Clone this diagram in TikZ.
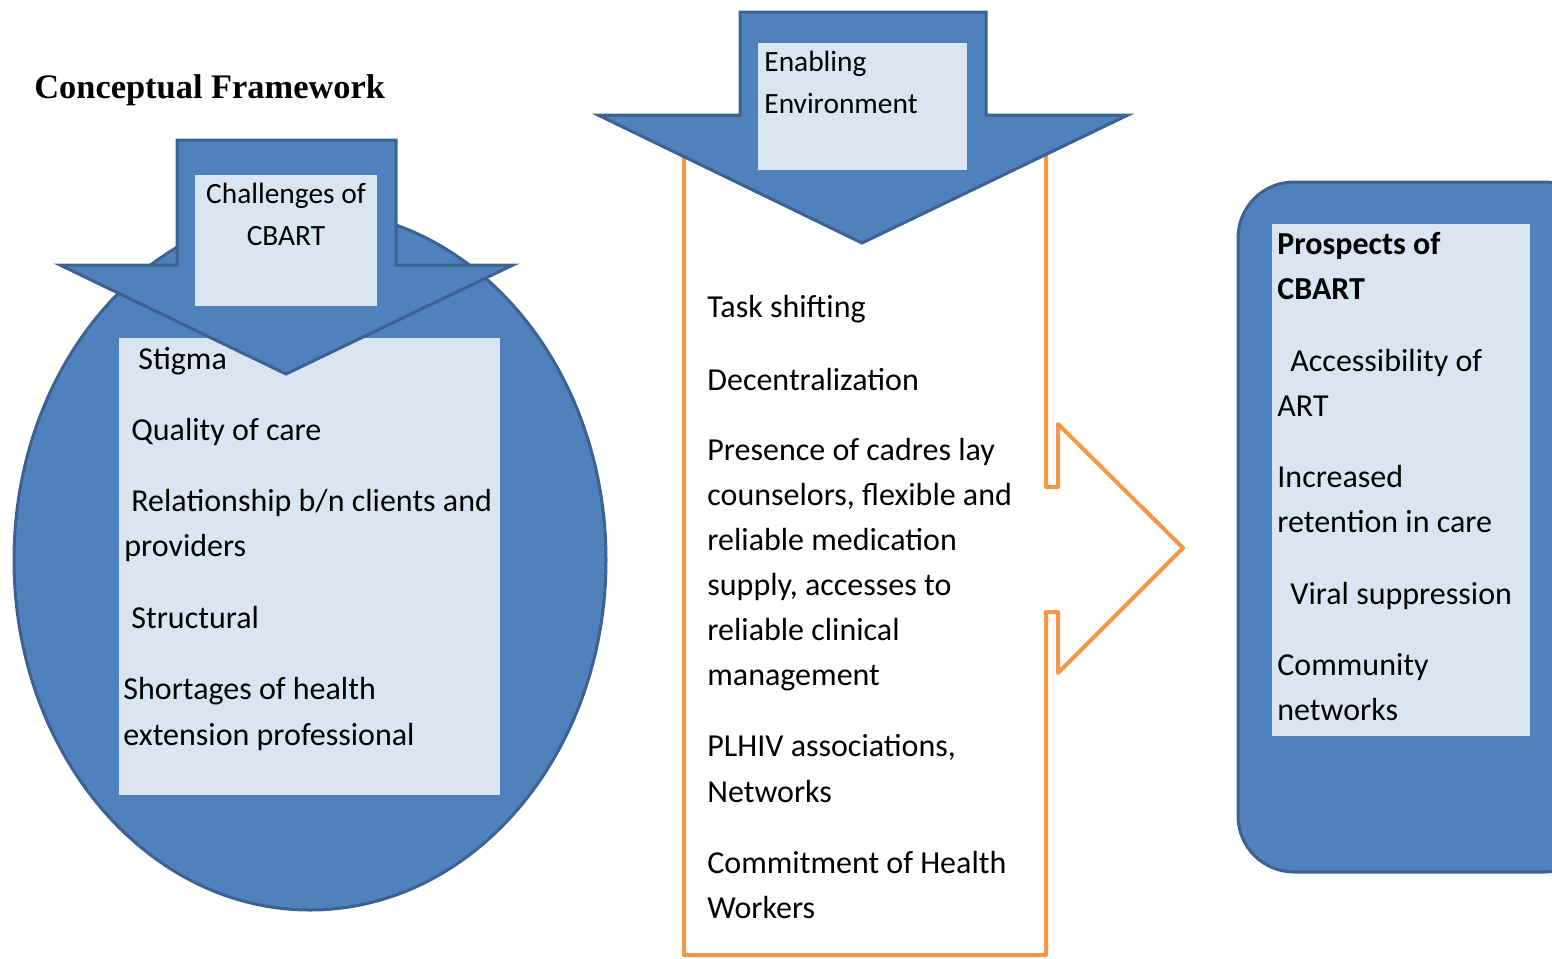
\documentclass[tikz,border=0pt]{standalone}
\usepackage{fontspec}
\newfontfamily\bodyfont{Carlito}
\newfontfamily\titlefont{Liberation Serif}
\begin{document}
\begin{tikzpicture}[x=0.5pt,y=-0.5pt,
  blueshape/.style={fill=blueA,draw=blueB,line width=1.5pt,line join=miter},
  lightbox/.style={fill=blueL,draw=none},
  txt/.style={anchor=base west,inner sep=0pt,font=\bodyfont\fontsize{16}{19}\selectfont},
  htxt/.style={anchor=base west,inner sep=0pt,font=\bodyfont\fontsize{14.7}{18}\selectfont},
  ctxt/.style={htxt,anchor=base},
  btxt/.style={txt,font=\bodyfont\bfseries\fontsize{16}{19}\selectfont}]
\definecolor{blueA}{HTML}{4F81BD}
\definecolor{blueB}{HTML}{3B6290}
\definecolor{blueL}{HTML}{DBE5F1}
\definecolor{orangeA}{HTML}{F79646}
\useasboundingbox (0,0) rectangle (1552,958);
\clip (0,0) rectangle (1552,958);

% title
\node[anchor=base west,inner sep=0pt,font=\titlefont\bfseries\fontsize{17.2}{20}\selectfont]
  (title) at (34,98) {Conceptual Framework};

% ---- challenges: ellipse, list box, down arrow ----
\draw[blueshape] (310,560) ellipse [x radius=296, y radius=350];
\fill[lightbox] (119,338) rectangle (500,795);
\draw[blueshape] (177,140) -- (396,140) -- (396,265) -- (513,265) -- (286,374)
  -- (60,265) -- (177,265) -- cycle;
\fill[lightbox] (195,175) rectangle (377,306);
\node[ctxt] (ch1) at (286,203) {Challenges of};
\node[ctxt] (ch2) at (286,245) {CBART};

\node[txt] (l1) at (138,369) {Stigma};
\node[txt] (l2) at (131,440) {Quality of care};
\node[txt] (l3) at (131,511) {Relationship b/n clients and};
\node[txt] (l4) at (124,556) {providers};
\node[txt] (l5) at (131,628) {Structural};
\node[txt] (l6) at (123,699) {Shortages of health};
\node[txt] (l7) at (123,745) {extension professional};

% ---- enabling environment: orange outline with right arrow ----
\draw[orangeA,line width=2pt,line join=round]
  (684,135) -- (684,955) -- (1046,955) -- (1046,612) -- (1058,612) -- (1058,673)
  -- (1183,548) -- (1058,424) -- (1058,487) -- (1046,487) -- (1046,135) -- cycle;
\draw[blueshape] (740,12) -- (986,12) -- (986,115) -- (1128,115) -- (862,243)
  -- (598,115) -- (740,115) -- cycle;
\fill[lightbox] (758,43) rectangle (967,170);
\node[htxt] (e1) at (764,71) {Enabling};
\node[htxt] (e2) at (764,113) {Environment};

\node[txt] (m1) at (707,317) {Task shifting};
\node[txt] (m2) at (707,390) {Decentralization};
\node[txt] (m3) at (707,460) {Presence of cadres lay};
\node[txt] (m4) at (707,505) {counselors, flexible and};
\node[txt] (m5) at (707,550) {reliable medication};
\node[txt] (m6) at (707,595) {supply, accesses to};
\node[txt] (m7) at (707,640) {reliable clinical};
\node[txt] (m8) at (707,685) {management};
\node[txt] (m9) at (707,756) {PLHIV associations,};
\node[txt] (m10) at (707,802) {Networks};
\node[txt] (m11) at (707,873) {Commitment of Health};
\node[txt] (m12) at (707,918) {Workers};

% ---- prospects ----
\draw[blueshape,rounded corners=28pt] (1238,182) rectangle (1600,872);
\fill[lightbox] (1272,224) rectangle (1530,736);
\node[btxt] (p1) at (1277,254) {Prospects of};
\node[btxt] (p2) at (1277,299) {CBART};
\node[txt] (r1) at (1290,371) {Accessibility of};
\node[txt] (r2) at (1277,416) {ART};
\node[txt] (r3) at (1277,487) {Increased};
\node[txt] (r4) at (1277,532) {retention in care};
\node[txt] (r5) at (1290,604) {Viral suppression};
\node[txt] (r6) at (1277,675) {Community};
\node[txt] (r7) at (1277,720) {networks};
\end{tikzpicture}
\end{document}
